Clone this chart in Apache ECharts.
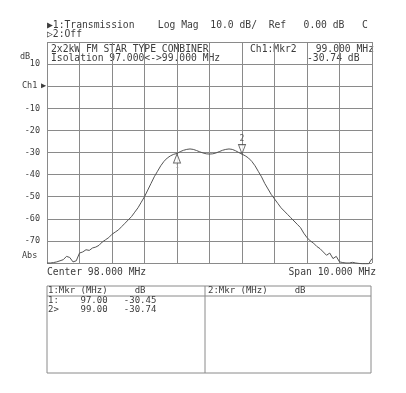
<!DOCTYPE html>
<html><head><meta charset="utf-8">
<script src="https://cdn.jsdelivr.net/npm/echarts@6/dist/echarts.min.js"></script>
<style>html,body{margin:0;padding:0;background:#fff}#c{width:406px;height:393px}</style>
</head><body><div id="c"></div>
<script>
const freqStart = 93.0, freqStep = 0.1;
const traceDb = [
 -80.0,-80.0,-79.8,-79.5,-79.0,-78.5,-77.0,-77.5,-79.5,-79.0,
 -75.5,-75.0,-74.0,-74.3,-73.2,-72.8,-72.0,-70.5,-69.5,-68.5,
 -67.0,-66.0,-65.0,-63.5,-62.0,-60.5,-59.0,-57.0,-55.0,-52.5,
 -50.0,-47.0,-44.0,-41.0,-38.5,-36.0,-34.0,-32.5,-31.5,-30.8,
 -30.45,-29.6,-29.0,-28.6,-28.4,-28.6,-29.1,-29.7,-30.2,-30.6,
 -30.7,-30.6,-30.2,-29.6,-29.0,-28.6,-28.4,-28.6,-29.2,-30.0,
 -30.74,-31.5,-32.5,-34.0,-36.0,-38.5,-41.0,-44.0,-46.5,-49.0,
 -51.0,-53.0,-55.0,-56.5,-58.0,-59.5,-61.0,-62.5,-64.0,-66.5,
 -68.5,-70.0,-71.0,-72.5,-73.5,-75.0,-76.5,-75.5,-78.0,-77.0,
 -79.5,-79.8,-80.0,-80.0,-79.7,-80.0,-80.2,-80.3,-80.3,-80.3,
 -78.0
];
const markerFreq = [97.00, 99.00];
const markerDb = [-30.45, -30.74];
const yTicks = [20,10,0,-10,-20,-30,-40,-50,-60,-70,-80];

const traceData = traceDb.map((v,i)=>[+(freqStart+i*freqStep).toFixed(2), v]);
const FONT = 'DejaVu Sans Mono';
const TC = '#3c3c3c';
const t = (x,y,s,size,align) => ({type:'text',x:x,y:y,style:{text:s,fill:TC,font:(size||9.7)+'px "'+FONT+'"',textVerticalAlign:'middle',textAlign:align||'left'}});

const chart = echarts.init(document.getElementById('c'), null, {renderer:'canvas'});
chart.setOption({
  animation:false,
  backgroundColor:'#fff',
  grid:{left:47,right:34,top:42,bottom:130},
  xAxis:{type:'value',min:93,max:103,interval:1,
    axisLine:{show:false},axisTick:{show:false},axisLabel:{show:false},
    splitLine:{show:true,lineStyle:{color:'#8a8a8a',width:1}}},
  yAxis:{type:'value',min:-80,max:20,interval:10,
    axisLine:{show:false},axisTick:{show:false},
    axisLabel:{margin:7,color:TC,fontFamily:FONT,fontSize:8.5,
      formatter:v=>v===20||v===-80||v===0?'':String(v)},
    splitLine:{show:true,lineStyle:{color:'#8a8a8a',width:1}}},
  series:[
    {type:'line',data:traceData,showSymbol:false,symbol:'none',clip:false,
     lineStyle:{color:'#555',width:1},z:5},
    {type:'scatter',data:[[markerFreq[0],markerDb[0]]],symbol:'triangle',symbolSize:[7,9],
     symbolOffset:[0,5],itemStyle:{color:'#fff',borderColor:'#444',borderWidth:1},z:6,
     label:{show:true,position:'bottom',distance:0,formatter:'1',color:'#999',fontSize:6,fontFamily:FONT}},
    {type:'scatter',data:[[markerFreq[1],markerDb[1]]],symbol:'triangle',symbolRotate:180,symbolSize:[7,9],
     symbolOffset:[0,-5],itemStyle:{color:'#fff',borderColor:'#444',borderWidth:1},z:6,
     label:{show:true,position:'top',distance:1,formatter:'2',color:'#444',fontSize:8,fontFamily:FONT}}
  ],
  graphic:[
    t(47,25,'▶1:Transmission    Log Mag  10.0 dB/  Ref   0.00 dB   C'),
    t(47,34,'▷2:Off'),
    t(20,57,'dB',8.5),
    t(22,86,'Ch1',8.5),
    t(41,86,'▶',8.5),
    t(22,256,'Abs',8.5),
    t(51,49,'2x2kW FM STAR TYPE COMBINER'),
    t(51,58,'Isolation 97.000<->99.000 MHz'),
    t(250,49,'Ch1:Mkr2'),
    t(374,49,'99.000 MHz',9.7,'right'),
    t(307,58,'-30.74 dB'),
    t(47,272,'Center 98.000 MHz'),
    t(376,272,'Span 10.000 MHz',9.7,'right'),
    {type:'rect',shape:{x:47,y:286,width:324,height:87},style:{fill:'none',stroke:'#8a8a8a',lineWidth:1}},
    {type:'line',shape:{x1:205,y1:286,x2:205,y2:373},style:{stroke:'#8a8a8a',lineWidth:1}},
    {type:'line',shape:{x1:47,y1:296,x2:371,y2:296},style:{stroke:'#8a8a8a',lineWidth:1}},
    t(48,291,'1:Mkr (MHz)     dB',9),
    t(48,301,'1:    '+markerFreq[0].toFixed(2)+'   '+markerDb[0].toFixed(2),9),
    t(48,310,'2>    '+markerFreq[1].toFixed(2)+'   '+markerDb[1].toFixed(2),9),
    t(208,291,'2:Mkr (MHz)     dB',9)
  ]
});
</script></body></html>
